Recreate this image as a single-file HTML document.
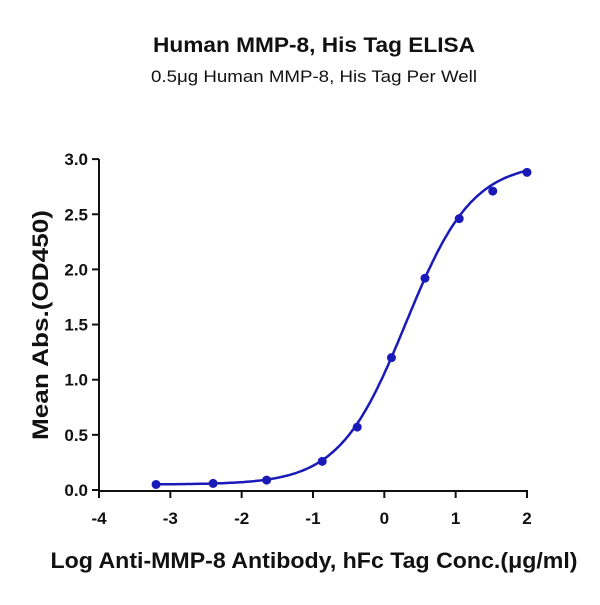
<!DOCTYPE html>
<html><head><meta charset="utf-8"><style>
body{margin:0;background:#fff;}
svg text{font-family:"Liberation Sans",sans-serif;fill:#111;}
</style></head><body>
<svg id="s" width="600" height="600" viewBox="0 0 600 600" xmlns="http://www.w3.org/2000/svg">
<text x="314" y="52" text-anchor="middle" font-size="21" font-weight="bold" textLength="322" lengthAdjust="spacingAndGlyphs">Human MMP-8, His Tag ELISA</text>
<text x="314" y="82" text-anchor="middle" font-size="17" textLength="326" lengthAdjust="spacingAndGlyphs">0.5μg Human MMP-8, His Tag Per Well</text>
<g stroke="#111" stroke-width="2" fill="none">
<line x1="99" y1="159" x2="99" y2="491"/>
<line x1="98" y1="491" x2="528" y2="491"/>
</g>
<g id="ticks" stroke="#111" stroke-width="2"></g>
<g id="labels" font-size="17" font-weight="bold"></g>
<text transform="translate(48,325) rotate(-90)" text-anchor="middle" font-size="22" font-weight="bold" textLength="230" lengthAdjust="spacingAndGlyphs">Mean Abs.(OD450)</text>
<text x="314" y="568" text-anchor="middle" font-size="22" font-weight="bold" textLength="527" lengthAdjust="spacingAndGlyphs">Log Anti-MMP-8 Antibody, hFc Tag Conc.(μg/ml)</text>
<path id="curve" fill="none" stroke="#1a1ab8" stroke-width="2.5"/>
<g id="pts" fill="#1a1ab8"></g>
</svg>
<script>
var X=function(v){return 99+(v+4)*71.33},Y=function(v){return 490-v*110.3};
var t=document.getElementById('ticks'),l=document.getElementById('labels'),ns='http://www.w3.org/2000/svg';
function el(p,n,a,tx){var e=document.createElementNS(ns,n);for(var k in a)e.setAttribute(k,a[k]);if(tx)e.textContent=tx;p.appendChild(e);}
for(var i=-4;i<=2;i++){el(t,'line',{x1:X(i),x2:X(i),y1:491,y2:498});el(l,'text',{x:X(i),y:524,'text-anchor':'middle'},String(i));}
for(var j=0;j<=6;j++){var v=j*0.5;el(t,'line',{x1:92,x2:99,y1:Y(v),y2:Y(v)});el(l,'text',{x:88,y:Y(v)+6,'text-anchor':'end'},v.toFixed(1));}
var d='';for(var x=-3.2;x<=2.001;x+=0.02){var y=0.05+2.92/(1+Math.pow(10,(0.3-x)*0.93));d+=(d?'L':'M')+X(x).toFixed(1)+' '+Y(y).toFixed(1);}
document.getElementById('curve').setAttribute('d',d);
var P=[[-3.2,0.05],[-2.4,0.06],[-1.65,0.09],[-0.87,0.26],[-0.38,0.57],[0.1,1.2],[0.57,1.92],[1.05,2.46],[1.52,2.71],[2.0,2.88]];
P.forEach(function(p){el(document.getElementById('pts'),'circle',{cx:X(p[0]),cy:Y(p[1]),r:4.5});});
</script>
</body></html>
